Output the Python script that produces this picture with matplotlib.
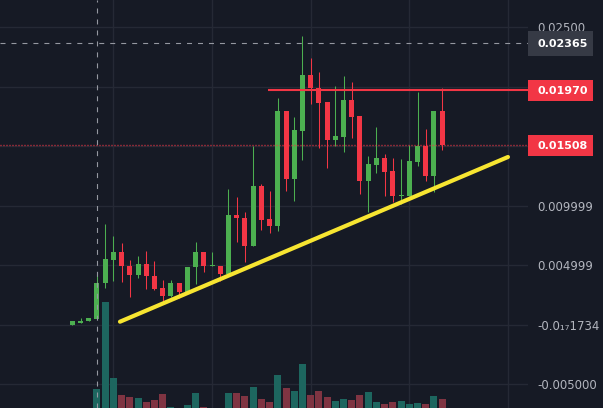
import matplotlib
matplotlib.use("Agg")
import matplotlib.pyplot as plt
from matplotlib.patches import Rectangle
from matplotlib.transforms import blended_transform_factory, Affine2D
import numpy as np

plt.rcParams['font.family'] = ['DejaVu Sans']
plt.rcParams['lines.scale_dashes'] = False

# ---------------- data ----------------
opens = [0.00000, 0.00019, 0.00030, 0.00047, 0.00349, 0.00547, 0.00615, 0.00497, 0.00416, 0.00514,
         0.00413, 0.00313, 0.00246, 0.00355, 0.00279, 0.00483, 0.00615, 0.00495, 0.00497, 0.00424,
         0.00925, 0.00900, 0.00659, 0.01168, 0.00891, 0.00827, 0.01796, 0.01229, 0.01628, 0.02098,
         0.01989, 0.01872, 0.01553, 0.01578, 0.01888, 0.01754, 0.01210, 0.01346, 0.01402, 0.01293,
         0.01084, 0.01084, 0.01369, 0.01503, 0.01251, 0.01796]
closes = [0.00030, 0.00036, 0.00053, 0.00355, 0.00556, 0.00615, 0.00491, 0.00416, 0.00514, 0.00407,
          0.00304, 0.00246, 0.00355, 0.00279, 0.00483, 0.00615, 0.00491, 0.00497, 0.00424, 0.00925,
          0.00894, 0.00659, 0.01168, 0.00883, 0.00827, 0.01796, 0.01229, 0.01637, 0.02098, 0.01986,
          0.01866, 0.01553, 0.01587, 0.01888, 0.01746, 0.01210, 0.01352, 0.01402, 0.01285, 0.01084,
          0.01090, 0.01377, 0.01503, 0.01251, 0.01796, 0.01508]
highs = [0.00036, 0.00053, 0.00053, 0.00428, 0.00849, 0.00749, 0.00684, 0.00547, 0.00575, 0.00623,
         0.00539, 0.00380, 0.00380, 0.00355, 0.00483, 0.00698, 0.00615, 0.00615, 0.00497, 0.01142,
         0.01075, 0.00950, 0.01503, 0.01184, 0.01126, 0.01905, 0.01796, 0.01746, 0.02425, 0.02240,
         0.02123, 0.01872, 0.02006, 0.02089, 0.02039, 0.01754, 0.01419, 0.01662, 0.01436, 0.01402,
         0.01394, 0.01511, 0.01955, 0.01645, 0.01796, 0.01989]
lows = [0.00000, 0.00019, 0.00030, 0.00047, 0.00307, 0.00371, 0.00363, 0.00237, 0.00391, 0.00304,
        0.00296, 0.00196, 0.00235, 0.00229, 0.00279, 0.00346, 0.00441, 0.00495, 0.00371, 0.00424,
        0.00692, 0.00525, 0.00659, 0.00799, 0.00768, 0.00791, 0.01126, 0.01042, 0.01385, 0.01855,
        0.01486, 0.01321, 0.01503, 0.01455, 0.01570, 0.01101, 0.00950, 0.01279, 0.01084, 0.01028,
        0.01014, 0.01084, 0.01335, 0.01210, 0.01117, 0.01469]
volumes = [0, 0, 0, 19, 106, 30, 13, 11, 10, 6,
           8, 14, 1, 0, 3, 15, 1, 0, 0, 15,
           15, 12, 21, 9, 6, 33, 20, 17, 44, 13,
           17, 11, 7, 9, 8, 13, 16, 6, 4, 6,
           7, 4, 5, 4, 12, 9]

tick_values = [0.025, 0.020, 0.015, 0.010, 0.005, 0.0, -0.005]
tick_labels = ['0.02500', '', '', '0.009999', '0.004999', '-0.0\u2081\u20871734', '-0.005000']

crosshair_index = 3
crosshair_price = 0.02365
resistance_price = 0.0197
resistance_start = 23.8
last_price = 0.01508
trend_x = [5.8, 53.0]
trend_y = [0.00026, 0.0141]

# ---------------- style ----------------
BG = '#161a25'
GRID = '#252935'
UP = '#4caf50'
DOWN = '#f23645'
VOL_UP = '#1d665f'
VOL_DOWN = '#7f3442'
TXT = '#b2b5be'

W, H = 603, 408
fig = plt.figure(figsize=(W / 100, H / 100), dpi=100, facecolor=BG)
ax = fig.add_axes([0, 0, 528 / W, 1])
ax.set_facecolor(BG)

xmin, xmax = -8.796, 55.44
ax.set_xlim(xmin, xmax)
ax.set_ylim(-0.006992, 0.027294)

for s in ax.spines.values():
    s.set_visible(False)

# grid
ax.set_xticks([5, 17, 29, 41, 53])
ax.set_xticklabels([])
ax.tick_params(axis='x', length=0)
ax.yaxis.tick_right()
ax.set_yticks(tick_values)
ax.set_yticklabels(tick_labels)
ax.tick_params(axis='y', length=0, pad=6.5, labelsize=8.5, labelcolor=TXT)
ax.grid(True, color=GRID, lw=1.0)
ax.set_axisbelow(True)

x = np.arange(len(opens))
o = np.array(opens); c = np.array(closes)
hi = np.array(highs); lo = np.array(lows)
up = c >= o
colors = np.where(up, UP, DOWN)

# volume (bottom overlay, units ~ pixels of pane height)
vol_trans = blended_transform_factory(ax.transData, Affine2D().scale(1, 1 / H) + ax.transAxes)
vcolors = np.where(up, VOL_UP, VOL_DOWN)
ax.bar(x, volumes, width=0.85, bottom=0, color=vcolors, transform=vol_trans, zorder=1, lw=0)

# wicks and bodies
ax.vlines(x, lo, hi, colors=colors, lw=0.75, zorder=3)
body_bottom = np.minimum(o, c)
body_h = np.maximum(np.abs(c - o), 0.00009)
ax.bar(x, body_h, bottom=body_bottom, width=0.61, color=colors, lw=0, zorder=4)

# annotations
ax.plot(trend_x, trend_y, color='#f7e531', lw=3.0, solid_capstyle='round', zorder=6)
ax.hlines(resistance_price, resistance_start, xmax, color=DOWN, lw=1.5, zorder=5)
ax.axhline(last_price, color=DOWN, lw=1.0, ls=(0, (0.72, 1.44)), zorder=5)
ax.axhline(crosshair_price, color='#9598a1', lw=0.8, ls=(0, (3.6, 4.3)), zorder=7)
ax.axvline(crosshair_index, color='#9598a1', lw=0.8, ls=(0, (3.6, 4.3)), zorder=7)

# price labels on the right scale
lab_trans = blended_transform_factory(fig.transFigure, ax.transData)
px = 1 / 11900.0
for val, hpx, fc in [(crosshair_price, 24.7, '#363a45'),
                     (resistance_price, 20.4, DOWN),
                     (last_price, 20.4, DOWN)]:
    r = Rectangle((528.3 / W, val - hpx * px / 2), 64.5 / W, hpx * px,
                  transform=lab_trans, facecolor=fc, edgecolor='none', clip_on=False, zorder=10)
    ax.add_patch(r)
    ax.text(538 / W, val, f'{val:.5f}', transform=lab_trans, color='white', fontsize=8,
            fontweight='bold', ha='left', va='center_baseline', clip_on=False, zorder=11)

fig.savefig('out.png', dpi=100, facecolor=BG)
